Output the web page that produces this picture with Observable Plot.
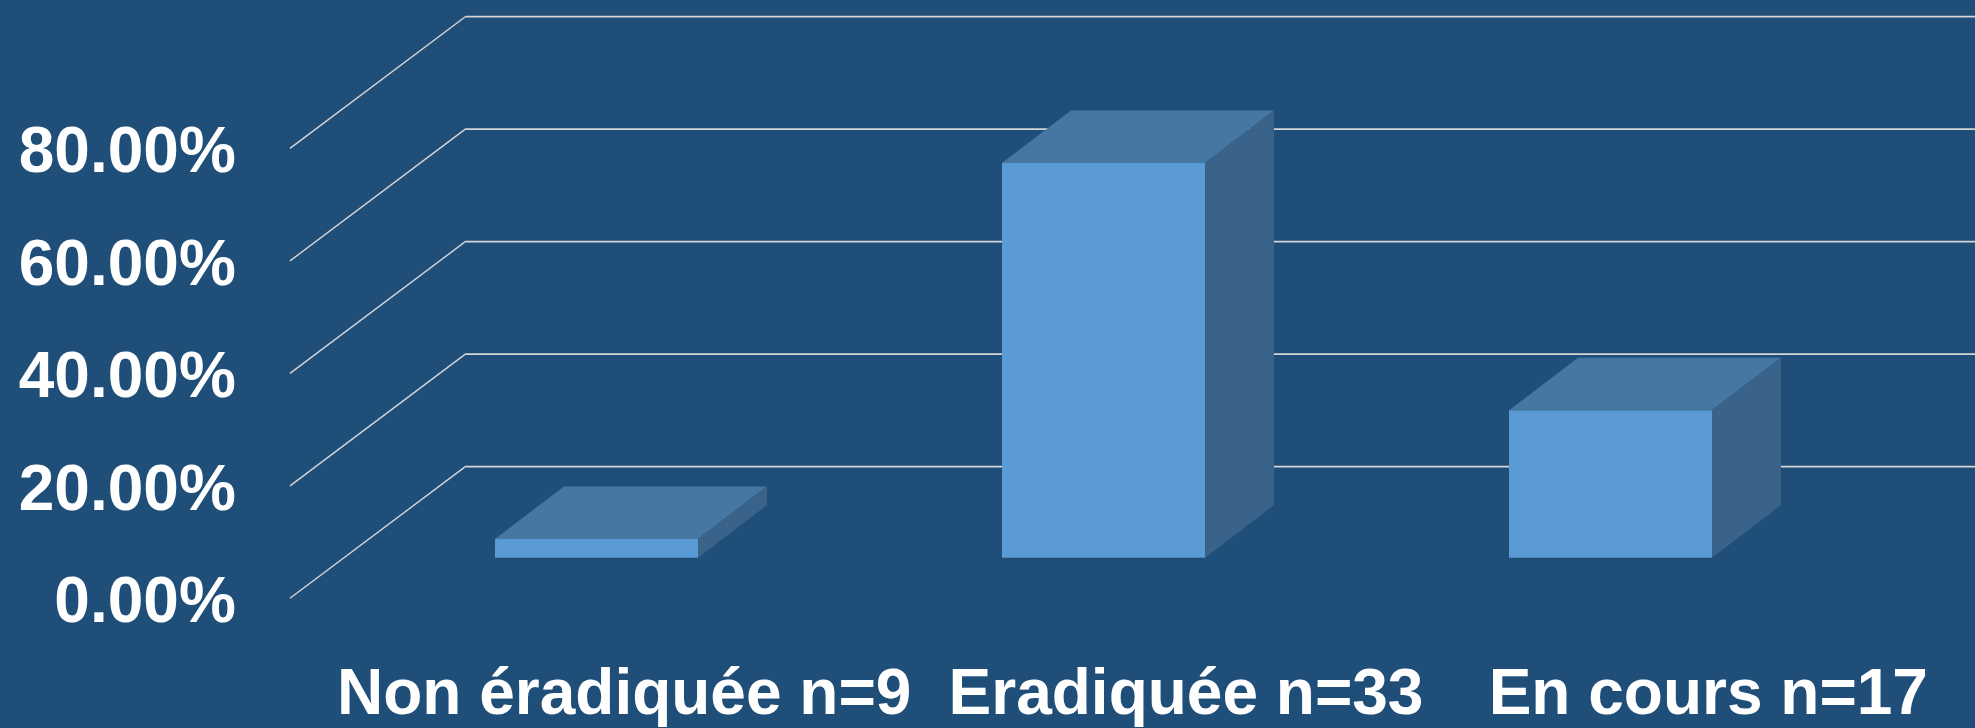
<!DOCTYPE html>
<html>
<head>
<meta charset="utf-8">
<script src="https://cdn.jsdelivr.net/npm/d3@7"></script>
<script src="https://cdn.jsdelivr.net/npm/@observablehq/plot@0.6"></script>
<style>
  html, body { margin: 0; padding: 0; background: #1F4E79; overflow: hidden; }
  #chart svg { display: block; }
</style>
</head>
<body>
<div id="chart"></div>
<script>
// ---- data ----
const categories = ["Non éradiquée n=9", "Eradiquée n=33", "En cours n=17"];
const shares = [3.33, 70.2, 26.2];          // percent
const yTicks = [0, 20, 40, 60, 80];

const data = categories.map((c, i) => ({category: c, share: shares[i]}));

// ---- geometry / style ----
const W = 1975, H = 728;
const wallLeft = 466, wallBottom = 466.1, wallTop = 16.2;
const floorDX = 176, floorDY = 132.2;   // side-wall depth
const frontDY = 91.6;                   // bar front plane below back wall
const depthDX = 69, depthDY = -52.5;    // bar depth
const gridColor = "#D6D6D6";
const frontColor = "#5B9BD5", topColor = "#4677A2", sideColor = "#396389";
const labelDx = [27.2, 82, 97.3];
const font = "'Liberation Sans', Arial, Helvetica, sans-serif";

function bw(scales) {
  return typeof scales.x.bandwidth === "function" ? scales.x.bandwidth() : 203;
}

// diagonal side-wall grid lines
const diagonals = (index, scales, values, dims) => {
  const g = d3.create("svg:g").attr("stroke", gridColor).attr("stroke-width", 1.4);
  for (const t of yTicks) {
    const yb = scales.y(t);
    g.append("line")
      .attr("x1", dims.marginLeft - floorDX).attr("y1", yb + floorDY)
      .attr("x2", dims.marginLeft).attr("y2", yb);
  }
  return g.node();
};

// top and side faces of each box
const boxFaces = (index, scales) => {
  const g = d3.create("svg:g");
  const w = bw(scales);
  data.forEach(d => {
    const x0 = scales.x(d.category), x1 = x0 + w;
    const yT = scales.y(d.share) + frontDY;
    const yB = scales.y(0) + frontDY;
    g.append("polygon")
      .attr("points", [[x0, yT], [x1, yT], [x1 + depthDX, yT + depthDY], [x0 + depthDX, yT + depthDY]].join(" "))
      .attr("fill", topColor);
    g.append("polygon")
      .attr("points", [[x1, yT], [x1 + depthDX, yT + depthDY], [x1 + depthDX, yB + depthDY], [x1, yB]].join(" "))
      .attr("fill", sideColor);
  });
  return g.node();
};

const chart = Plot.plot({
  width: W,
  height: H,
  marginLeft: wallLeft,
  marginRight: 0,
  marginTop: wallTop,
  marginBottom: H - wallBottom,
  style: {background: "#1F4E79", color: "white", fontFamily: font, overflow: "visible"},
  x: {domain: categories, range: [342.7, 1865], paddingInner: 0.6, paddingOuter: 0.3, axis: null, label: null},
  y: {domain: [0, 80], range: [wallBottom, wallTop], label: null},
  marks: [
    Plot.ruleY(yTicks, {stroke: gridColor, strokeWidth: 1.8}),
    diagonals,
    boxFaces,
    Plot.barY(data, {x: "category", y: "share", fill: frontColor, dy: frontDY}),
    Plot.axisY({
      ticks: yTicks,
      tickFormat: d => d.toFixed(2) + "%",
      tickSize: 0,
      tickPadding: 0,
      dx: -230.7,
      dy: 135,
      fontSize: 64,
      fontWeight: "bold",
      fill: "white",
      label: null
    }),
    ...categories.map((c, i) => Plot.text([c], {
      x: d => d,
      text: d => d,
      frameAnchor: "bottom",
      dy: 247.3,
      dx: labelDx[i],
      fontSize: 64,
      fontWeight: "bold",
      fill: "white",
      fontFamily: font
    }))
  ]
});

document.getElementById("chart").appendChild(chart);
</script>
</body>
</html>
